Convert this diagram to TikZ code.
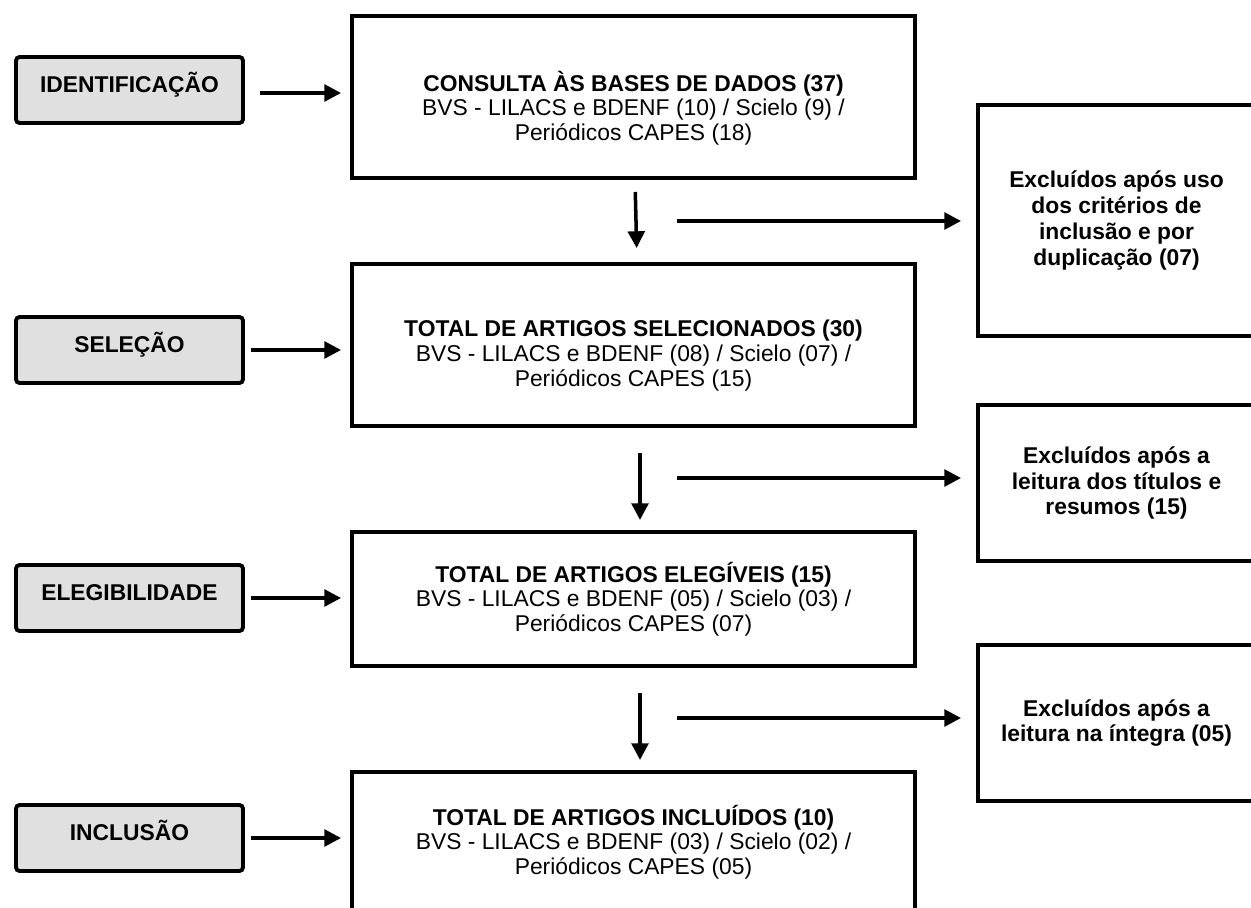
\documentclass[tikz,border=0pt]{standalone}
\usepackage{fontspec}
\setmainfont{Liberation Sans}
\usetikzlibrary{arrows.meta, positioning, calc}

\begin{document}
\begin{tikzpicture}[
    x=0.02cm, y=-0.02cm,
    every node/.style={font=\fontsize{13}{14}\selectfont},
    phase/.style={rectangle, rounded corners=2pt, draw, fill=black!12, line width=2.2pt, minimum width=4.54cm, minimum height=1.32cm, text height=12pt, text depth=9.5pt, font=\fontsize{13}{14}\selectfont\bfseries},
    stage/.style={rectangle, draw, line width=2.3pt, minimum width=11.26cm, align=center},
    excl/.style={rectangle, draw, line width=2.3pt, minimum width=5.54cm, align=center, font=\fontsize{13}{14.7}\selectfont\bfseries},
    arrow/.style={-{Triangle[length=9.5pt,width=9.5pt]}, line width=2pt}
]
\useasboundingbox (0,0) rectangle (1251,908);

% fases
\node[phase] (ident) at (129.5,90) {IDENTIFICAÇÃO};
\node[phase] (selec) at (129.5,350) {SELEÇÃO};
\node[phase] (eleg) at (129.5,598) {ELEGIBILIDADE};
\node[phase] (incl) at (129.5,838) {INCLUSÃO};

% etapas
\node[stage, minimum height=3.24cm] (consulta) at (633.5,97) {\rule{0pt}{24pt}\textbf{CONSULTA ÀS BASES DE DADOS (37)}\\BVS - LILACS e BDENF (10) / Scielo (9) /\\Periódicos CAPES (18)};
\node[stage, minimum height=3.24cm] (selecionados) at (633.5,345) {\rule{0pt}{21.5pt}\textbf{TOTAL DE ARTIGOS SELECIONADOS (30)}\\BVS - LILACS e BDENF (08) / Scielo (07) /\\Periódicos CAPES (15)};
\node[stage, minimum height=2.68cm] (elegiveis) at (633.5,599) {\textbf{TOTAL DE ARTIGOS ELEGÍVEIS (15)}\\BVS - LILACS e BDENF (05) / Scielo (03) /\\Periódicos CAPES (07)};
\node[stage, minimum height=2.8cm] (incluidos) at (633.5,842) {\textbf{TOTAL DE ARTIGOS INCLUÍDOS (10)}\\BVS - LILACS e BDENF (03) / Scielo (02) /\\Periódicos CAPES (05)};

% exclusoes
\node[excl, minimum height=4.62cm] (exc1) at (1116.5,220.5) {Excluídos após uso\\dos critérios de\\inclusão e por\\duplicação (07)};
\node[excl, minimum height=3.12cm] (exc2) at (1116.5,483) {Excluídos após a\\leitura dos títulos e\\resumos (15)};
\node[excl, minimum height=3.12cm] (exc3) at (1116.5,723) {Excluídos após a\\leitura na íntegra (05)};

\coordinate (r1) at (677,221);
\coordinate (r2) at (677,478);
\coordinate (r3) at (677,718);

% setas
\draw[arrow, shorten <=0.3cm, shorten >=0.18cm] (ident.east |- 0,93) -- (consulta.west |- 0,93);
\draw[arrow, shorten <=0.12cm, shorten >=0.18cm] (selec) -- (selec -| selecionados.west);
\draw[arrow, shorten <=0.12cm, shorten >=0.18cm] (eleg) -- (eleg -| elegiveis.west);
\draw[arrow, shorten <=0.12cm, shorten >=0.18cm] (incl) -- (incl -| incluidos.west);

\draw[arrow, shorten <=0.24cm, shorten >=0.28cm] ([xshift=0.03cm]consulta.south) -- ([xshift=0.07cm]selecionados.north);
\draw[arrow, shorten <=0.5cm, shorten >=0.2cm] ([xshift=0.13cm]selecionados.south) -- ([xshift=0.13cm]elegiveis.north);
\draw[arrow, shorten <=0.5cm, shorten >=0.2cm] ([xshift=0.13cm]elegiveis.south) -- ([xshift=0.13cm]incluidos.north);

\draw[arrow, shorten >=0.3cm] (r1) -- (r1 -| exc1.west);
\draw[arrow, shorten >=0.3cm] (r2) -- (r2 -| exc2.west);
\draw[arrow, shorten >=0.3cm] (r3) -- (r3 -| exc3.west);
\end{tikzpicture}
\end{document}
